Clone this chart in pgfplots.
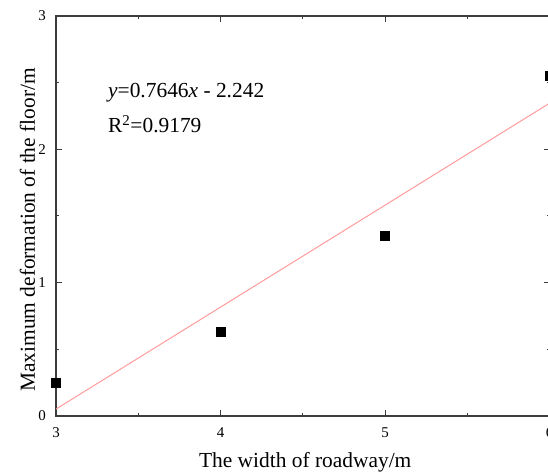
\documentclass[border=0pt]{standalone}
\usepackage{fontspec}
\setmainfont{Liberation Serif}
\usepackage{pgfplots}
\pgfplotsset{compat=1.18}
\definecolor{fitred}{RGB}{255,155,155}
\definecolor{axisgray}{RGB}{60,60,60}
\begin{document}
\begin{tikzpicture}[x=1bp,y=1bp]
\useasboundingbox (0,0) rectangle (548,475);
\clip (0,0) rectangle (548,475);
\begin{axis}[
  at={(56bp,59bp)}, anchor=south west,
  scale only axis, width=493.5bp, height=400bp,
  xmin=3, xmax=6, ymin=0, ymax=3,
  xtick={3,4,5,6}, ytick={0,1,2,3},
  minor x tick num=1, minor y tick num=1,
  tick align=inside,
  major tick length=6bp, minor tick length=3bp,
  axis line style={axisgray, line width=1.3bp},
  tick style={axisgray, line width=1bp},
  /pgf/number format/assume math mode=true,
  xticklabel style={font=\fontsize{15}{17}\selectfont, inner sep=0pt, anchor=base, yshift=-21.5bp},
  yticklabel style={font=\fontsize{15}{17}\selectfont, inner sep=0pt, anchor=east, xshift=-10bp},
  label style={font=\fontsize{21.5}{24}\selectfont},
  xlabel={The width of roadway/m},
  ylabel={Maximum deformation of the floor/m},
  xlabel style={at={(axis description cs:0.505,-0.1275)}, anchor=base, inner sep=0pt},
  ylabel style={at={(axis description cs:-0.0426,0.465)}, anchor=base, inner sep=0pt},
]
% linear fit y = 0.7646x - 2.242
\addplot[fitred, line width=1bp] coordinates {(3,0.0518) (6,2.3456)};
% measured floor deformation
\addplot[only marks, mark=square*, mark size=4.5bp, mark options={black, fill=black}]
  coordinates {(3,0.25) (4,0.63) (5,1.35) (6,2.55)};
\node[anchor=base west, inner sep=0pt, font=\fontsize{21.5}{24}\selectfont]
  at (axis cs:3.316,2.385) {\textit{y}=0.7646\textit{x} - 2.242};
\node[anchor=base west, inner sep=0pt, font=\fontsize{21.5}{24}\selectfont]
  at (axis cs:3.316,2.1225) {R\textsuperscript{2}=0.9179};
\end{axis}
\end{tikzpicture}
\end{document}
